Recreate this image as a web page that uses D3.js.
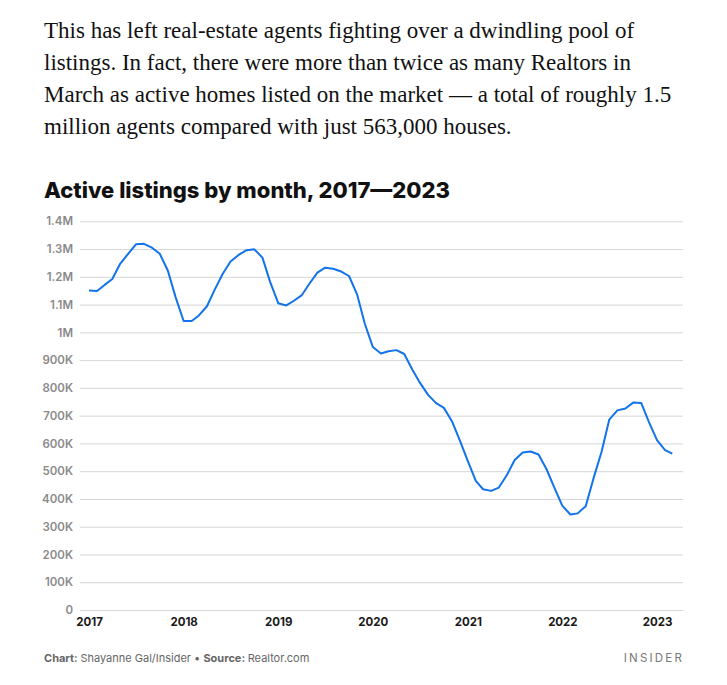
<!DOCTYPE html>
<html>
<head>
<meta charset="utf-8">
<script src="https://cdn.jsdelivr.net/npm/d3@7"></script>
<style>
  body { margin: 0; background: #fff; }
</style>
</head>
<body>
<svg id="chart"></svg>
<script>
const width = 727;
const height = 685;

// monthly active listings, Jan 2017 – Mar 2023
const startMonth = new Date(2017, 0, 1);
const listings = [
  1151000, 1149000, 1170000, 1192000, 1247000, 1283000, 1317000, 1319000, 1305000, 1283000, 1223000, 1127000,
  1041000, 1041000, 1061000, 1094000, 1154000, 1211000, 1255000, 1279000, 1296000, 1299000, 1269000, 1181000,
  1105000, 1097000, 1113000, 1133000, 1175000, 1215000, 1233000, 1229000, 1219000, 1203000, 1137000, 1031000,
  947000, 924000, 932000, 936000, 922000, 866000, 818000, 775000, 745000, 728000, 680000, 612000,
  537000, 465000, 435000, 429000, 441000, 486000, 540000, 567000, 571000, 560000, 507000, 441000,
  375000, 344000, 348000, 374000, 474000, 569000, 686000, 719000, 726000, 747000, 746000, 677000,
  612000, 576000, 563000
];
const yTicks = d3.range(0, 1400001, 100000);
const xYears = d3.range(2017, 2024);

const paragraph = [
  "This has left real-estate agents fighting over a dwindling pool of",
  "listings. In fact, there were more than twice as many Realtors in",
  "March as active homes listed on the market \u2014 a total of roughly 1.5",
  "million agents compared with just 563,000 houses."
];

const data = listings.map((v, i) => ({date: d3.timeMonth.offset(startMonth, i), value: v}));

const svg = d3.select("#chart")
    .attr("width", width)
    .attr("height", height)
    .attr("viewBox", [0, 0, width, height]);

// Paragraph
svg.append("g")
    .attr("font-family", "'Liberation Serif', serif")
    .attr("font-size", 23)
    .attr("fill", "#111")
  .selectAll("text")
  .data(paragraph)
  .join("text")
    .attr("x", 44)
    .attr("y", (d, i) => 37.5 + i * 32.3)
    .text(d => d);

// Title
svg.append("text")
    .attr("x", 44)
    .attr("y", 198)
    .attr("font-family", "Inter, sans-serif")
    .attr("font-weight", 800)
    .attr("font-size", 22)
    .attr("fill", "#111")
    .text("Active listings by month, 2017\u20142023");

const x = d3.scaleTime([new Date(2017, 0, 1), new Date(2023, 0, 1)], [89, 657]);
const y = d3.scaleLinear([0, 1400000], [610, 221.3]);

const fmt = v => v === 0 ? "0" : v >= 1e6 ? (v / 1e6) + "M" : (v / 1e3) + "K";

// Y axis + grid
svg.append("g")
    .attr("transform", "translate(73,0)")
    .call(d3.axisLeft(y).tickValues(yTicks).tickFormat(fmt).tickSize(0).tickPadding(0))
    .call(g => g.select(".domain").remove())
    .call(g => g.selectAll(".tick line").clone()
        .attr("x1", 7)
        .attr("x2", 610)
        .attr("stroke", "#d6d6d6")
        .attr("stroke-width", 1))
    .call(g => g.selectAll(".tick text")
        .attr("fill", "#8a8a8a")
        .attr("font-family", "Inter, sans-serif")
        .attr("font-weight", 600)
        .attr("font-size", 11.5));

// X axis
svg.append("g")
    .attr("transform", "translate(0,610)")
    .call(d3.axisBottom(x).tickValues(xYears.map(yr => new Date(yr, 0, 1))).tickFormat(d3.timeFormat("%Y")).tickSize(0).tickPadding(8))
    .call(g => g.select(".domain").remove())
    .call(g => g.selectAll(".tick text")
        .attr("fill", "#1a1a1a")
        .attr("font-family", "Inter, sans-serif")
        .attr("font-weight", 700)
        .attr("font-size", 11.5));

// Line
const line = d3.line()
    .x(d => x(d.date))
    .y(d => y(d.value));

svg.append("path")
    .datum(data)
    .attr("fill", "none")
    .attr("stroke", "#1273eb")
    .attr("stroke-width", 2)
    .attr("stroke-linejoin", "round")
    .attr("d", line);

// Footer
const footer = svg.append("text")
    .attr("x", 44)
    .attr("y", 662)
    .attr("font-family", "Inter, sans-serif")
    .attr("font-size", 11)
    .attr("fill", "#666");
footer.append("tspan").attr("font-weight", 700).text("Chart: ");
footer.append("tspan").text("Shayanne Gal/Insider \u2022 ");
footer.append("tspan").attr("font-weight", 700).text("Source: ");
footer.append("tspan").text("Realtor.com");

svg.append("text")
    .attr("x", 684)
    .attr("y", 662)
    .attr("text-anchor", "end")
    .attr("font-family", "Inter, sans-serif")
    .attr("font-size", 11.5)
    .attr("letter-spacing", 2.2)
    .attr("fill", "#777")
    .text("INSIDER");
</script>
</body>
</html>
